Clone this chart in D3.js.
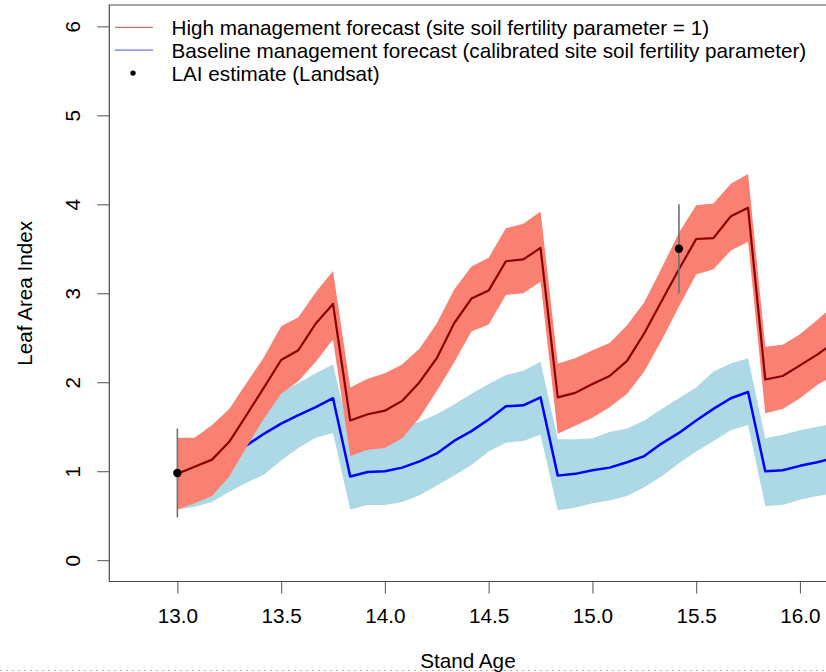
<!DOCTYPE html>
<html>
<head>
<meta charset="utf-8">
<script src="https://cdn.jsdelivr.net/npm/d3@7"></script>
<style>
  html, body { margin: 0; padding: 0; background: #fff; }
  svg { display: block; font-family: "Liberation Sans", Arial, Helvetica, sans-serif; }
</style>
</head>
<body>
<svg id="chart" width="826" height="672"></svg>
<script>
// ---- data ----
const standAge = [13.000, 13.083, 13.167, 13.250, 13.333, 13.417, 13.500, 13.583, 13.667, 13.750,
  13.833, 13.917, 14.000, 14.083, 14.167, 14.250, 14.333, 14.417, 14.500, 14.583, 14.667, 14.750,
  14.833, 14.917, 15.000, 15.083, 15.167, 15.250, 15.333, 15.417, 15.500, 15.583, 15.667, 15.750,
  15.833, 15.917, 16.000, 16.083, 16.167];

const highMean = [0.97, 1.05, 1.13, 1.33, 1.63, 1.94, 2.25, 2.36, 2.66, 2.88,
  1.57, 1.64, 1.68, 1.79, 2.00, 2.27, 2.66, 2.94, 3.03, 3.36, 3.38, 3.51,
  1.83, 1.88, 1.98, 2.07, 2.24, 2.55, 2.91, 3.27, 3.61, 3.62, 3.865, 3.96,
  2.03, 2.07, 2.19, 2.31, 2.45];
const highUpper = [1.375, 1.375, 1.52, 1.70, 1.99, 2.28, 2.63, 2.73, 3.01, 3.25,
  1.94, 2.04, 2.10, 2.20, 2.38, 2.66, 3.04, 3.30, 3.40, 3.73, 3.78, 3.92,
  2.21, 2.27, 2.36, 2.44, 2.64, 2.90, 3.28, 3.68, 3.99, 4.01, 4.23, 4.34,
  2.40, 2.42, 2.54, 2.70, 2.87];
const highLower = [0.57, 0.64, 0.72, 0.94, 1.27, 1.59, 1.87, 2.01, 2.23, 2.48,
  1.17, 1.24, 1.26, 1.37, 1.60, 1.90, 2.22, 2.57, 2.65, 2.98, 3.00, 3.13,
  1.42, 1.51, 1.60, 1.72, 1.87, 2.12, 2.47, 2.85, 3.21, 3.27, 3.48, 3.58,
  1.65, 1.70, 1.82, 1.97, 2.08];

const baseMean = [0.97, 1.02, 1.08, 1.17, 1.29, 1.42, 1.535, 1.63, 1.72, 1.82,
  0.94, 0.99, 1.00, 1.04, 1.11, 1.20, 1.34, 1.45, 1.58, 1.73, 1.74, 1.83,
  0.95, 0.97, 1.01, 1.04, 1.10, 1.17, 1.31, 1.43, 1.57, 1.70, 1.82, 1.89,
  1.00, 1.01, 1.06, 1.10, 1.15];
const baseUpper = [0.80, 0.87, 0.95, 1.10, 1.35, 1.62, 1.89, 1.99, 2.10, 2.20,
  1.38, 1.40, 1.42, 1.50, 1.555, 1.64, 1.75, 1.87, 1.98, 2.08, 2.13, 2.23,
  1.36, 1.36, 1.37, 1.44, 1.48, 1.57, 1.70, 1.82, 1.94, 2.12, 2.21, 2.27,
  1.37, 1.41, 1.46, 1.50, 1.53];
const baseLower = [0.57, 0.60, 0.655, 0.77, 0.87, 0.96, 1.12, 1.26, 1.375, 1.43,
  0.57, 0.62, 0.62, 0.655, 0.73, 0.84, 0.95, 1.07, 1.22, 1.32, 1.34, 1.41,
  0.56, 0.59, 0.64, 0.67, 0.72, 0.82, 0.94, 1.09, 1.22, 1.34, 1.46, 1.52,
  0.61, 0.62, 0.68, 0.72, 0.75];

const obsAge = [13.0, 15.417];
const obsLAI = [0.98, 3.50];
const obsLow = [0.48, 3.00];
const obsHigh = [1.48, 4.00];

const xTicks = [13.0, 13.5, 14.0, 14.5, 15.0, 15.5, 16.0];
const yTicks = [0, 1, 2, 3, 4, 5, 6];
const xLim = [12.8, 16.0];
const yLim = [0, 6];

const legendLabels = [
  "High management forecast (site soil fertility parameter = 1)",
  "Baseline management forecast (calibrated site soil fertility parameter)",
  "LAI estimate (Landsat)"
];

// ---- layout ----
const box = {left: 109.3, right: 826.5, top: 5, bottom: 581.5};
const fontSize = 20.7;
const svg = d3.select("#chart");

const pad = (lim) => { const d = (lim[1] - lim[0]) * 0.04; return [lim[0] - d, lim[1] + d]; };
const x = d3.scaleLinear().domain(pad(xLim)).range([box.left, box.right]);
const y = d3.scaleLinear().domain(pad(yLim)).range([box.bottom, box.top]);

const rows = standAge.map((a, i) => ({
  a, hm: highMean[i], hu: highUpper[i], hl: highLower[i],
  bm: baseMean[i], bu: baseUpper[i], bl: baseLower[i]
}));

svg.append("defs").append("clipPath").attr("id", "plotclip")
  .append("rect").attr("x", box.left).attr("y", box.top)
  .attr("width", box.right - box.left).attr("height", box.bottom - box.top);

const plot = svg.append("g").attr("clip-path", "url(#plotclip)");

const area = (lo, hi) => d3.area().x(d => x(d.a)).y0(d => y(d[lo])).y1(d => y(d[hi]));
const line = (k) => d3.line().x(d => x(d.a)).y(d => y(d[k]));

plot.append("path").datum(rows).attr("d", area("bl", "bu")).attr("fill", "#ADD8E6");
plot.append("path").datum(rows).attr("d", line("bm")).attr("fill", "none")
  .attr("stroke", "#0000FF").attr("stroke-width", 2.5).attr("stroke-linejoin", "round");
plot.append("path").datum(rows).attr("d", area("hl", "hu")).attr("fill", "#FA8072");
plot.append("path").datum(rows).attr("d", line("hm")).attr("fill", "none")
  .attr("stroke", "#8B0000").attr("stroke-width", 2.2).attr("stroke-linejoin", "round");

// observations with error bars
obsAge.forEach((a, i) => {
  plot.append("line").attr("x1", x(a)).attr("x2", x(a))
    .attr("y1", y(obsLow[i])).attr("y2", y(obsHigh[i]))
    .attr("stroke", "#707070").attr("stroke-width", 1.6);
  plot.append("circle").attr("cx", x(a)).attr("cy", y(obsLAI[i])).attr("r", 4.2).attr("fill", "#000");
});

// box
const axisCol = "#4a4a4a";
svg.append("path")
  .attr("d", `M${box.right},${box.top}H${box.left}V${box.bottom}H${box.right}`)
  .attr("fill", "none").attr("stroke", axisCol).attr("stroke-width", 1.2);

// x axis
const xAxis = svg.append("g").attr("transform", `translate(0,${box.bottom})`)
  .call(d3.axisBottom(x).tickValues(xTicks).tickSize(12).tickFormat(d3.format(".1f")));
xAxis.select(".domain").remove();
xAxis.selectAll(".tick line").attr("stroke", "#606060").attr("stroke-width", 1.1);
xAxis.selectAll(".tick text").attr("y", 0).attr("dy", null)
  .attr("transform", "translate(0,41.5)")
  .attr("font-size", fontSize).attr("font-family", "Liberation Sans, Arial, sans-serif").attr("fill", "#000");

// y axis
const yAxis = svg.append("g").attr("transform", `translate(${box.left},0)`)
  .call(d3.axisLeft(y).tickValues(yTicks).tickSize(12).tickFormat(d3.format("d")));
yAxis.select(".domain").remove();
yAxis.selectAll(".tick line").attr("stroke", "#606060").attr("stroke-width", 1.1);
yAxis.selectAll(".tick text").attr("x", 0).attr("dy", null).attr("y", 0)
  .attr("text-anchor", "middle")
  .attr("transform", `translate(${80 - box.left},0) rotate(-90)`)
  .attr("font-size", fontSize).attr("font-family", "Liberation Sans, Arial, sans-serif").attr("fill", "#000");

// titles
const midX = (box.left + box.right) / 2;
const midY = (box.top + box.bottom) / 2;
svg.append("text").attr("x", midX).attr("y", 668).attr("text-anchor", "middle")
  .attr("font-size", fontSize).text("Stand Age");
svg.append("text").attr("transform", `translate(31.5,${midY}) rotate(-90)`)
  .attr("text-anchor", "middle").attr("font-size", fontSize).text("Leaf Area Index");

// legend
const legY = [27.3, 50.2, 73.1];
const leg = svg.append("g");
leg.append("line").attr("x1", 115).attr("x2", 153).attr("y1", legY[0]).attr("y2", legY[0])
  .attr("stroke", "#c07474").attr("stroke-width", 1.2);
leg.append("line").attr("x1", 115).attr("x2", 153).attr("y1", legY[1]).attr("y2", legY[1])
  .attr("stroke", "#7474ff").attr("stroke-width", 1.2);
leg.append("circle").attr("cx", 133).attr("cy", legY[2]).attr("r", 2.7).attr("fill", "#000");
legendLabels.forEach((t, i) => {
  leg.append("text").attr("x", 171.5).attr("y", legY[i] + 7.5)
    .attr("font-size", fontSize).attr("fill", "#000").text(t);
});

// dotted border line at the very bottom
svg.append("line").attr("x1", 0).attr("x2", 826).attr("y1", 670.5).attr("y2", 670.5)
  .attr("stroke", "#b0b0b0").attr("stroke-width", 1).attr("stroke-dasharray", "2,4");
</script>
</body>
</html>
